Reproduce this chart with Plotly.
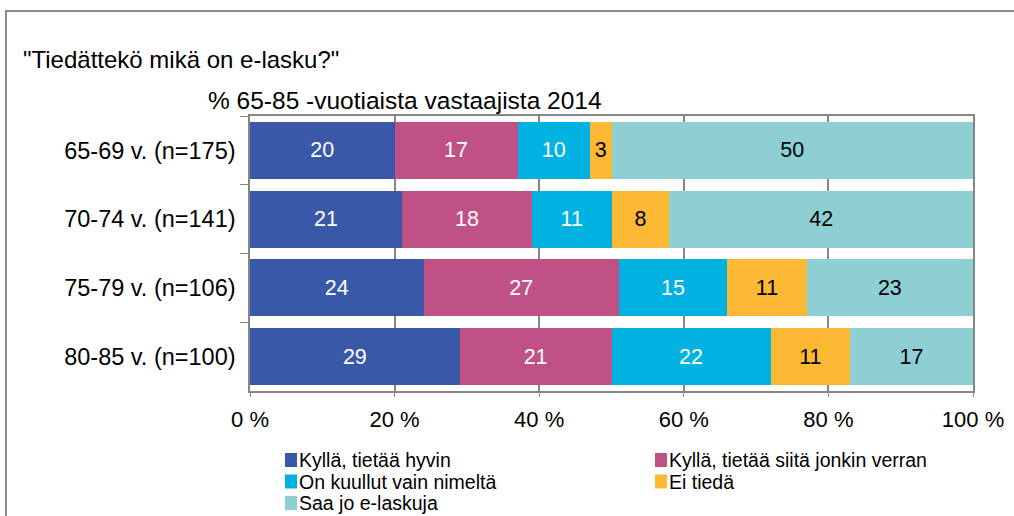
import plotly.graph_objects as go

categories = ["65-69 v. (n=175)", "70-74 v. (n=141)", "75-79 v. (n=106)", "80-85 v. (n=100)"]
series_names = ["Kyllä, tietää hyvin", "Kyllä, tietää siitä jonkin verran",
                "On kuullut vain nimeltä", "Ei tiedä", "Saa jo e-laskuja"]
kylla_hyvin = [20, 21, 24, 29]
kylla_jonkin = [17, 18, 27, 21]
kuullut = [10, 11, 15, 22]
ei_tieda = [3, 8, 11, 11]
saa_jo = [50, 42, 23, 17]
values = [kylla_hyvin, kylla_jonkin, kuullut, ei_tieda, saa_jo]
colors = ["#3A58A8", "#C05184", "#00B2E2", "#FDB933", "#8ECFD4"]
text_colors = ["white", "white", "white", "black", "black"]
x_ticks = [0, 20, 40, 60, 80, 100]
x_tick_labels = ["0 %", "20 %", "40 %", "60 %", "80 %", "100 %"]
title_text = '"Tiedättekö mikä on e-lasku?"'
subtitle_text = "% 65-85 -vuotiaista vastaajista 2014"

FONT = "Liberation Sans"
W, H = 1014, 516
L, R, T, B = 250, 41, 116, 125
pw, ph = W - L - R, H - T - B


def px_x(px):
    return (px - L) / pw


def px_y(py):
    return (H - B - py) / ph


fig = go.Figure()
for name, vals, col, tcol in zip(series_names, values, colors, text_colors):
    fig.add_trace(go.Bar(
        y=categories, x=vals, name=name, orientation="h",
        marker=dict(color=col, line=dict(width=0)),
        text=[str(v) for v in vals], textposition="inside", insidetextanchor="middle",
        textfont=dict(color=tcol, size=21.5, family=FONT),
        constraintext="none", showlegend=False,
    ))

# legend drawn as layout items (two columns, as in the reference)
legend_pos = [(285, 460), (655, 460), (285, 481.5), (655, 481.5), (285, 503)]
annotations = [
    dict(text=title_text, xref="paper", yref="paper", x=px_x(21), y=px_y(59),
         xanchor="left", yanchor="middle", showarrow=False,
         font=dict(size=24, family=FONT)),
    dict(text=subtitle_text, xref="paper", yref="paper", x=px_x(206), y=px_y(100),
         xanchor="left", yanchor="middle", showarrow=False,
         font=dict(size=24.5, family=FONT)),
]
shapes = [
    dict(type="rect", xref="paper", yref="paper", x0=px_x(6), x1=px_x(1100),
         y0=px_y(600), y1=px_y(11), line=dict(color="#8C8C8C", width=2),
         fillcolor="rgba(0,0,0,0)", layer="below"),
]
for (lx, ly), name, col in zip(legend_pos, series_names, colors):
    shapes.append(dict(type="rect", xref="paper", yref="paper",
                       x0=px_x(lx), x1=px_x(lx + 12), y0=px_y(ly + 7), y1=px_y(ly - 7),
                       fillcolor=col, line=dict(width=0)))
    annotations.append(dict(text=name, xref="paper", yref="paper", x=px_x(lx + 13),
                            y=px_y(ly), xanchor="left", yanchor="middle", showarrow=False,
                            borderpad=0, font=dict(size=19.5, family=FONT)))

fig.update_layout(
    width=W, height=H, barmode="stack", bargap=0.17,
    margin=dict(l=L, r=R, t=T, b=B, pad=0, autoexpand=False),
    paper_bgcolor="white", plot_bgcolor="white",
    font=dict(family=FONT, size=16, color="black"),
    showlegend=False,
    xaxis=dict(range=[0, 100], tickvals=x_ticks, ticktext=x_tick_labels,
               showgrid=True, gridcolor="#868686", gridwidth=1.5,
               showline=True, linecolor="#868686", linewidth=1.5, mirror=True,
               ticks="outside", ticklen=4, tickcolor="#868686", ticklabelstandoff=4,
               tickfont=dict(size=22, family=FONT), zeroline=False, fixedrange=True),
    yaxis=dict(autorange="reversed", showline=True, linecolor="#868686", linewidth=1.5,
               mirror=True, ticks="outside", ticklen=8, tickcolor="#868686",
               tickson="boundaries", tickfont=dict(size=23.5, family=FONT),
               ticklabelstandoff=8, showgrid=False, fixedrange=True),
    uniformtext=dict(mode=False),
    annotations=annotations,
    shapes=shapes,
)

fig.write_html("out.html", config={"displayModeBar": False},
               post_script="document.body.style.margin='0';")
